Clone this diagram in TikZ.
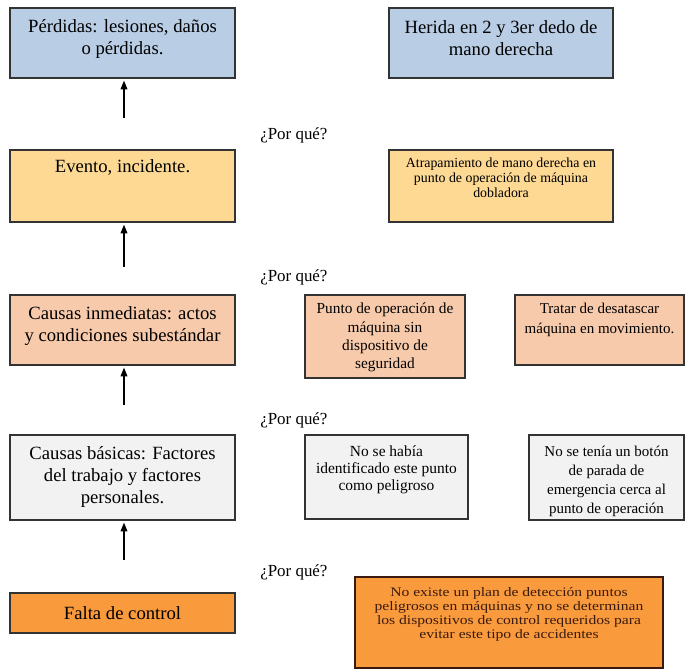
\documentclass[tikz,border=0pt]{standalone}
\usepackage{fontspec}
\setmainfont{Liberation Serif}
\newfontfamily\wideserif[FakeStretch=1.2]{Liberation Serif}
\usetikzlibrary{arrows.meta}
\definecolor{cblue}{HTML}{B9CDE5}
\definecolor{cyellow}{HTML}{FDD993}
\definecolor{csalmon}{HTML}{F7CAAB}
\definecolor{cgrey}{HTML}{F2F2F2}
\definecolor{corange}{HTML}{F99A3D}
\definecolor{cedge}{HTML}{333333}
\definecolor{cbrown}{HTML}{3A1A0E}
\begin{document}
\begin{tikzpicture}[x=0.75pt,y=-0.75pt,
 box/.style={draw=cedge, line width=0.9pt, inner sep=0pt, rectangle},
 txt/.style={inner sep=0pt, align=center, text=black},
 bigtxt/.style={txt, font=\fontsize{14}{16.5}\selectfont},
 why/.style={inner sep=0pt, anchor=west, font=\fontsize{12.7}{15}\selectfont},
 arr/.style={line width=0.9pt, -{Triangle[width=5pt,length=6.5pt]}, shorten >=1.5pt}]
\fill[white] (0,0) rectangle (686,669);
\useasboundingbox (0,0) rectangle (686,669);

% left column
\node[box, fill=cblue, minimum width=168.75pt, minimum height=52.5pt] (b1) at (122.5,43) {};
\node[box, fill=cyellow, minimum width=168.75pt, minimum height=54pt] (b2) at (122.5,186) {};
\node[box, fill=csalmon, minimum width=168.75pt, minimum height=52.5pt] (b3) at (122.5,330) {};
\node[box, fill=cgrey, minimum width=168.75pt, minimum height=63.75pt] (b4) at (122.5,477.5) {};
\node[box, fill=corange, minimum width=168.75pt, minimum height=30pt] (b5) at (122.5,613) {};

\node[bigtxt] (t1) at (122.5,38.5) {Pérdidas: lesiones, daños\\o pérdidas.};
\node[bigtxt] (t2) at (122.5,167) {Evento, incidente.};
\node[bigtxt] (t3) at (122.5,326) {Causas inmediatas: actos\\y condiciones subestándar};
\node[bigtxt] (t4) at (122.5,477) {Causas básicas: Factores\\del trabajo y factores\\personales.};
\node[bigtxt] (t5) at (122.5,613) {Falta de control};

% arrows
\coordinate (a1) at (124,118);
\coordinate (a2) at (124,267);
\coordinate (a3) at (124,405);
\coordinate (a4) at (124,560);
\draw[arr] (a1) -- (a1 |- b1.south);
\draw[arr] (a2) -- (a2 |- b2.south);
\draw[arr] (a3) -- (a3 |- b3.south);
\draw[arr] (a4) -- (a4 |- b4.south);

% why labels
\node[why] (w1) at (260,135) {¿Por qué?};
\node[why] (w2) at (260,277) {¿Por qué?};
\node[why] (w3) at (260,420) {¿Por qué?};
\node[why] (w4) at (260,572) {¿Por qué?};

% right column
\node[box, fill=cblue, minimum width=168pt, minimum height=52.5pt] (r1) at (501,43) {};
\node[box, fill=cyellow, minimum width=168pt, minimum height=54pt] (r2) at (501,186) {};
\node[box, fill=csalmon, minimum width=120pt, minimum height=62.25pt] (r3a) at (385,336.5) {};
\node[box, fill=csalmon, minimum width=126.75pt, minimum height=52.5pt] (r3b) at (599.5,330) {};
\node[box, fill=cgrey, minimum width=122.25pt, minimum height=63pt] (r4a) at (386.5,477) {};
\node[box, fill=cgrey, minimum width=116.25pt, minimum height=63.75pt] (r4b) at (606.5,477.5) {};
\node[box, fill=corange, draw=cbrown, minimum width=231pt, minimum height=68.25pt] (r5) at (509,622.5) {};

\node[bigtxt] (s1) at (501,38.5) {Herida en 2 y 3er dedo de\\mano derecha};
\node[txt, font=\fontsize{10.4}{11.25}\selectfont] (s2) at (501,178) {Atrapamiento de mano derecha en\\punto de operación de máquina\\dobladora};
\node[txt, font=\fontsize{11.5}{13.7}\selectfont] (s3a) at (385,337.5) {Punto de operación de\\máquina sin\\dispositivo de\\seguridad};
\node[txt, font=\fontsize{11.25}{15}\selectfont] (s3b) at (599.5,320) {Tratar de desatascar\\máquina en movimiento.};
\node[txt, font=\fontsize{11.6}{12.75}\selectfont] (s4a) at (386.5,470) {No se había\\identificado este punto\\como peligroso};
\node[txt, font=\fontsize{11.25}{14.25}\selectfont] (s4b) at (606.5,481.5) {No se tenía un botón\\de parada de\\emergencia cerca al\\punto de operación};
\node[txt, text=cbrown, font=\wideserif\fontsize{9.75}{10.5}\selectfont] (s5) at (509,614.5) {No existe un plan de detección puntos\\peligrosos en máquinas y no se determinan\\los dispositivos de control requeridos para\\evitar este tipo de accidentes};
\end{tikzpicture}
\end{document}
